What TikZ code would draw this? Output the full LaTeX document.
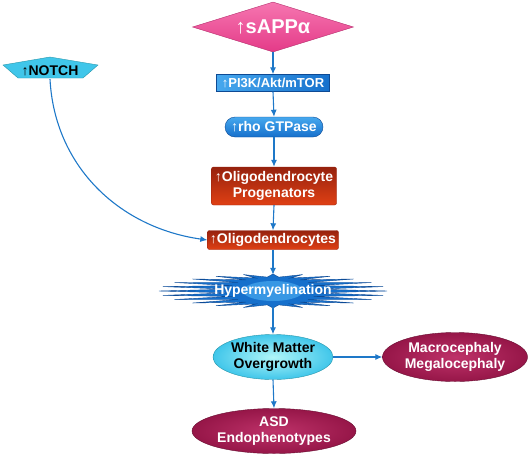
\documentclass[tikz,border=0pt]{standalone}
\usepackage{fontspec}
\setmainfont{Liberation Sans}
\usetikzlibrary{positioning, arrows.meta, shapes.geometric, shapes.misc}
\definecolor{dpink}{RGB}{228,58,136}
\definecolor{dpinklight}{RGB}{246,118,176}
\definecolor{dblue}{RGB}{22,112,204}
\definecolor{dbluelight}{RGB}{70,168,238}
\definecolor{ddarkblue}{RGB}{14,74,148}
\definecolor{dcyan}{RGB}{64,198,234}
\definecolor{dlightcyan}{RGB}{176,246,248}
\definecolor{dteal}{RGB}{40,150,170}
\definecolor{dred}{RGB}{224,64,20}
\definecolor{ddarkred}{RGB}{150,34,14}
\definecolor{dmaroon}{RGB}{150,22,72}
\definecolor{dmaroonlight}{RGB}{190,50,105}
\definecolor{dline}{RGB}{30,120,200}

\tikzset{
  flow/.style={draw=dline, line width=1.1pt, -{Latex[length=7pt, width=6pt]}},
  wtext/.style={text=white, font=\bfseries\fontsize{14pt}{16pt}\selectfont, align=center, inner sep=0pt},
  btext/.style={wtext, text=black},
  oligobox/.style={wtext, rectangle, rounded corners=2pt, draw=ddarkred,
    top color=ddarkred, middle color=dred, bottom color=dred},
  maroonoval/.style={wtext, ellipse, draw=dmaroon!70!black,
    inner color=dmaroonlight, outer color=dmaroon}
}

\begin{document}
\begin{tikzpicture}[x=1pt, y=-1pt]
        \useasboundingbox (0,0) rectangle (529,458);

        % top
        \node[name=sappa, shape=diamond, shape aspect=3.2, minimum width=161pt, minimum height=50pt,
              draw=dpink!80!black, top color=dpinklight, bottom color=dpink,
              wtext, font=\bfseries\fontsize{20pt}{22pt}\selectfont] at (273,27) {↑sAPPα};

        % notch
        \draw[draw=dteal, fill=dcyan] (3,65) -- (50,57) -- (98,65) -- (83,78) -- (18,78) -- cycle;
        \node[name=notch, btext, minimum height=16pt] at (50,71) {↑NOTCH};

        % signalling
        \node[name=pi3k, rectangle, minimum width=113pt, minimum height=17pt, draw=ddarkblue,
              left color=dbluelight, right color=dblue, wtext,
              font=\bfseries\fontsize{13pt}{15pt}\selectfont] at (273,83) {↑PI3K/Akt/mTOR};
        \node[name=rho, rounded rectangle, minimum width=98pt, minimum height=20pt, draw=ddarkblue,
              top color=dbluelight, bottom color=dblue, wtext] at (274,127) {↑rho GTPase};

        % oligodendrocytes
        \node[name=progen, oligobox, minimum width=125pt, minimum height=38pt] at (274,186)
              {↑Oligodendrocyte\\Progenators};
        \node[name=oligo, oligobox, minimum width=131pt, minimum height=19pt] at (273,240)
              {↑Oligodendrocytes};

        % hypermyelination burst
        \draw[draw=ddarkblue, fill=dblue, line join=miter] (387,291)
            \foreach \k in {1,...,24} {
              -- ({273+44*cos((\k-0.5)*15)}, {291+14*sin((\k-0.5)*15)})
              -- ({273+114*cos(\k*15)}, {291+17*sin(\k*15)})
            } -- cycle;
        \fill[dbluelight!70!dblue] (273,291) circle[x radius=30, y radius=10];
        \node[name=hyper, wtext, minimum width=70pt, minimum height=32pt] at (273,291) {Hypermyelination};

        % outcomes
        \node[name=wm, btext, ellipse, minimum width=120pt, minimum height=45pt, draw=dteal,
              inner color=dlightcyan, outer color=dcyan] at (273,357) {White Matter\\Overgrowth};
        \node[name=macro, maroonoval, minimum width=145pt, minimum height=49pt] at (455,357)
              {Macrocephaly\\Megalocephaly};
        \node[name=asd, maroonoval, minimum width=164pt, minimum height=45pt] at (274,431)
              {ASD\\Endophenotypes};

        % connectors
        \draw[flow] (sappa.south) -- (pi3k.north);
        \draw[flow] (pi3k.south) -- (rho.north);
        \draw[flow] (rho.south) -- (progen.north);
        \draw[flow] (progen.south) -- (oligo.north);
        \draw[flow] (oligo.south) -- (hyper.north);
        \draw[flow] (hyper.south) -- (wm.north);
        \draw[flow] (wm.south) -- (asd.north);
        \draw[flow] (wm.east) -- (macro.west);
        \draw[flow] (notch.south) to[out=-87, in=172] (oligo.west);
\end{tikzpicture}
\end{document}
